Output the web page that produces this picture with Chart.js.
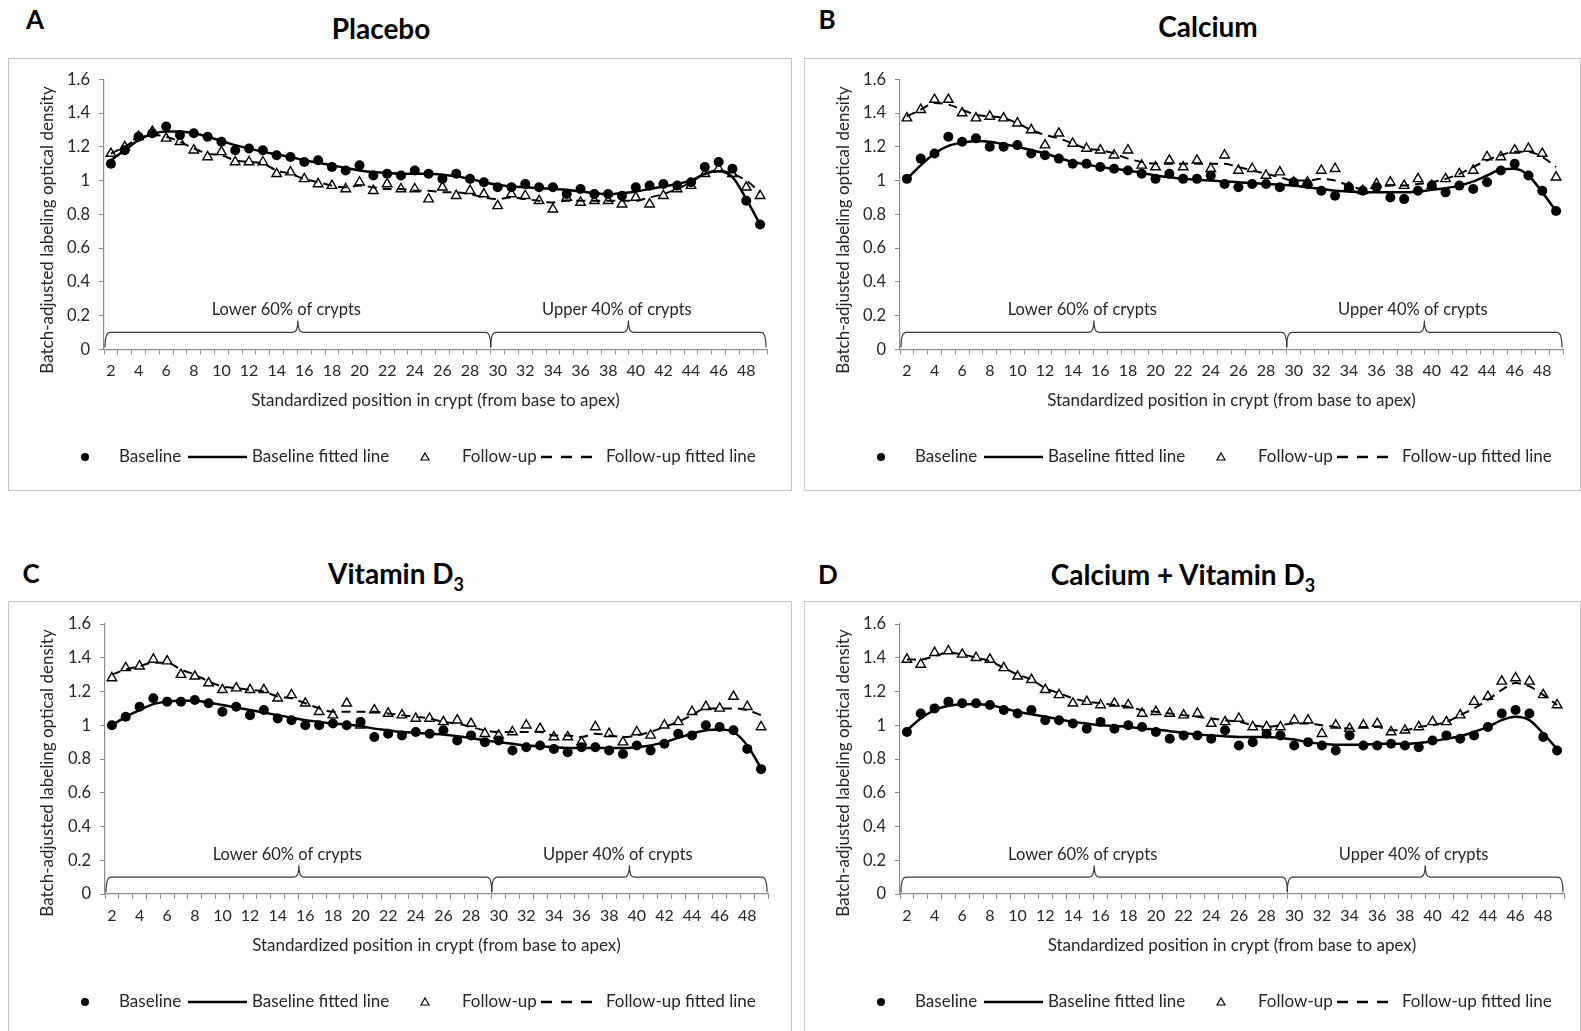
<!DOCTYPE html>
<html lang="en">
<head>
<meta charset="UTF-8" />
<title>Batch-adjusted labeling optical density along the crypt</title>
<script src="https://cdn.jsdelivr.net/npm/chart.js@4.4.1/dist/chart.umd.min.js"></script>
<style>
  body { margin: 0; width: 1581px; height: 1031px; background: #fff; overflow: hidden; position: relative; font-family: Lato, "Open Sans", sans-serif; }
  .box { position: absolute; border: 1.5px solid #c6c6c6; box-sizing: border-box; }
  .panel { position: absolute; }
  .letter, .title { position: absolute; transform: translate(-50%, -50%); font-weight: bold; color: #000; white-space: nowrap; line-height: 1; }
  .letter { font-size: 26px; }
  .title { font-size: 28px; }
  .title sub { font-size: 18px; vertical-align: -7px; line-height: 0; }
</style>
</head>
<body>
  <div class="box" style="left:8px;top:58px;width:784px;height:433px"></div>
  <div class="box" style="left:804px;top:58px;width:777px;height:433px"></div>
  <div class="box" style="left:8px;top:601px;width:784px;height:440px"></div>
  <div class="box" style="left:804px;top:601px;width:777px;height:440px"></div>

  <div class="letter" style="left:35px;top:19px">A</div>
  <div class="title" style="left:381px;top:28px">Placebo</div>
  <div class="letter" style="left:827px;top:19px">B</div>
  <div class="title" style="left:1208px;top:26px">Calcium</div>
  <div class="letter" style="left:31px;top:573px">C</div>
  <div class="title" style="left:396px;top:573px">Vitamin D<sub>3</sub></div>
  <div class="letter" style="left:828px;top:574px">D</div>
  <div class="title" style="left:1183px;top:574px">Calcium + Vitamin D<sub>3</sub></div>

  <canvas id="chartA" class="panel" style="left:8px;top:58px" width="784" height="433"></canvas>
  <canvas id="chartB" class="panel" style="left:804px;top:58px" width="777" height="433"></canvas>
  <canvas id="chartC" class="panel" style="left:8px;top:601px" width="784" height="433"></canvas>
  <canvas id="chartD" class="panel" style="left:804px;top:601px" width="777" height="433"></canvas>

<script>
// standardized position in crypt (base -> apex)
const positions = [2, 3, 4, 5, 6, 7, 8, 9, 10, 11, 12, 13,
  14, 15, 16, 17, 18, 19, 20, 21, 22, 23, 24, 25,
  26, 27, 28, 29, 30, 31, 32, 33, 34, 35, 36, 37,
  38, 39, 40, 41, 42, 43, 44, 45, 46, 47, 48, 49];

// A - Placebo
const placeboBaseline = [1.10, 1.18, 1.26, 1.28, 1.32, 1.27, 1.28, 1.26, 1.23, 1.18, 1.19, 1.18,
  1.15, 1.14, 1.11, 1.12, 1.08, 1.06, 1.09, 1.03, 1.04, 1.03, 1.06, 1.04,
  1.01, 1.04, 1.01, 0.99, 0.96, 0.96, 0.98, 0.96, 0.96, 0.92, 0.95, 0.92,
  0.92, 0.91, 0.96, 0.97, 0.98, 0.97, 0.99, 1.08, 1.11, 1.07, 0.88, 0.74];
const placeboBaselineFit = [1.12, 1.18, 1.24, 1.275, 1.29, 1.29, 1.28, 1.26, 1.235, 1.21, 1.19, 1.17,
  1.155, 1.14, 1.12, 1.105, 1.09, 1.075, 1.06, 1.05, 1.045, 1.04, 1.04, 1.04,
  1.035, 1.025, 1.01, 0.99, 0.975, 0.965, 0.96, 0.955, 0.95, 0.945, 0.935, 0.925,
  0.92, 0.925, 0.935, 0.95, 0.965, 0.98, 1.00, 1.04, 1.055, 1.02, 0.89, 0.74];
const placeboFollowUp = [1.16, 1.20, 1.26, 1.29, 1.25, 1.23, 1.18, 1.14, 1.17, 1.11, 1.11, 1.11,
  1.04, 1.05, 1.01, 0.98, 0.97, 0.95, 0.99, 0.94, 0.98, 0.95, 0.95, 0.89,
  0.96, 0.91, 0.94, 0.92, 0.85, 0.92, 0.91, 0.88, 0.83, 0.90, 0.87, 0.88,
  0.88, 0.86, 0.90, 0.86, 0.91, 0.95, 0.97, 1.04, 1.07, 1.04, 0.96, 0.91];
const placeboFollowUpFit = [1.16, 1.20, 1.25, 1.27, 1.26, 1.23, 1.19, 1.16, 1.15, 1.12, 1.11, 1.10,
  1.06, 1.04, 1.01, 0.99, 0.97, 0.96, 0.97, 0.96, 0.95, 0.95, 0.94, 0.94,
  0.93, 0.93, 0.92, 0.90, 0.89, 0.90, 0.89, 0.88, 0.87, 0.88, 0.88, 0.88,
  0.88, 0.88, 0.88, 0.90, 0.92, 0.95, 0.99, 1.04, 1.06, 1.04, 1.00, 0.93];

// B - Calcium
const calciumBaseline = [1.01, 1.13, 1.16, 1.26, 1.23, 1.25, 1.20, 1.20, 1.21, 1.16, 1.15, 1.13,
  1.10, 1.10, 1.08, 1.07, 1.06, 1.04, 1.01, 1.04, 1.01, 1.01, 1.03, 0.98,
  0.96, 0.98, 0.98, 0.96, 0.99, 0.98, 0.94, 0.91, 0.96, 0.94, 0.96, 0.90,
  0.89, 0.94, 0.97, 0.93, 0.97, 0.95, 0.99, 1.06, 1.10, 1.03, 0.94, 0.82];
const calciumBaselineFit = [1.01, 1.09, 1.16, 1.205, 1.225, 1.235, 1.23, 1.215, 1.20, 1.18, 1.16, 1.135,
  1.11, 1.095, 1.08, 1.07, 1.06, 1.045, 1.03, 1.02, 1.01, 1.005, 1.00, 0.995,
  0.99, 0.985, 0.98, 0.975, 0.97, 0.96, 0.95, 0.94, 0.935, 0.93, 0.93, 0.93,
  0.93, 0.935, 0.945, 0.955, 0.97, 0.995, 1.03, 1.065, 1.07, 1.03, 0.93, 0.82];
const calciumFollowUp = [1.37, 1.42, 1.48, 1.48, 1.40, 1.37, 1.38, 1.37, 1.34, 1.30, 1.21, 1.28,
  1.22, 1.19, 1.18, 1.15, 1.18, 1.09, 1.08, 1.12, 1.08, 1.12, 1.07, 1.15,
  1.06, 1.07, 1.03, 1.05, 0.99, 0.99, 1.06, 1.07, 0.96, 0.94, 0.98, 0.99,
  0.97, 1.01, 0.97, 1.01, 1.04, 1.06, 1.14, 1.14, 1.18, 1.19, 1.16, 1.02];
const calciumFollowUpFit = [1.38, 1.42, 1.46, 1.45, 1.42, 1.39, 1.38, 1.37, 1.34, 1.30, 1.27, 1.25,
  1.22, 1.19, 1.18, 1.16, 1.13, 1.11, 1.10, 1.10, 1.10, 1.10, 1.10, 1.10,
  1.08, 1.06, 1.04, 1.02, 1.00, 1.00, 1.01, 1.00, 0.97, 0.95, 0.96, 0.97,
  0.97, 0.98, 0.99, 1.01, 1.04, 1.08, 1.12, 1.15, 1.17, 1.17, 1.14, 1.08];

// C - Vitamin D3
const vitDBaseline = [1.00, 1.05, 1.11, 1.16, 1.14, 1.14, 1.15, 1.13, 1.08, 1.11, 1.06, 1.09,
  1.04, 1.03, 1.00, 1.00, 1.01, 1.00, 1.02, 0.93, 0.95, 0.94, 0.96, 0.95,
  0.97, 0.91, 0.94, 0.90, 0.91, 0.85, 0.87, 0.88, 0.86, 0.84, 0.87, 0.87,
  0.85, 0.83, 0.88, 0.85, 0.89, 0.95, 0.94, 1.00, 0.99, 0.97, 0.86, 0.74];
const vitDBaselineFit = [1.00, 1.05, 1.09, 1.125, 1.14, 1.145, 1.145, 1.135, 1.12, 1.105, 1.09, 1.075,
  1.06, 1.045, 1.03, 1.02, 1.01, 1.005, 0.995, 0.98, 0.97, 0.96, 0.955, 0.95,
  0.945, 0.935, 0.925, 0.91, 0.90, 0.89, 0.88, 0.875, 0.87, 0.865, 0.865, 0.865,
  0.865, 0.865, 0.87, 0.88, 0.90, 0.925, 0.95, 0.97, 0.975, 0.96, 0.88, 0.745];
const vitDFollowUp = [1.28, 1.34, 1.35, 1.39, 1.38, 1.30, 1.29, 1.25, 1.21, 1.22, 1.21, 1.21,
  1.16, 1.18, 1.13, 1.08, 1.06, 1.13, 1.00, 1.09, 1.07, 1.06, 1.04, 1.04,
  1.02, 1.03, 1.01, 0.95, 0.94, 0.96, 1.00, 0.98, 0.93, 0.93, 0.90, 0.99,
  0.95, 0.90, 0.96, 0.94, 1.00, 1.02, 1.08, 1.11, 1.10, 1.17, 1.11, 0.99];
const vitDFollowUpFit = [1.30, 1.33, 1.35, 1.37, 1.37, 1.33, 1.30, 1.26, 1.23, 1.22, 1.21, 1.20,
  1.17, 1.16, 1.13, 1.10, 1.08, 1.08, 1.08, 1.08, 1.07, 1.06, 1.05, 1.04,
  1.02, 1.01, 0.99, 0.97, 0.96, 0.96, 0.96, 0.96, 0.94, 0.94, 0.93, 0.95,
  0.94, 0.93, 0.94, 0.96, 0.99, 1.02, 1.06, 1.10, 1.10, 1.10, 1.09, 1.06];

// D - Calcium + Vitamin D3
const bothBaseline = [0.96, 1.07, 1.10, 1.14, 1.13, 1.13, 1.12, 1.09, 1.07, 1.09, 1.03, 1.03,
  1.01, 0.98, 1.02, 0.98, 1.00, 0.99, 0.96, 0.92, 0.94, 0.94, 0.92, 0.97,
  0.88, 0.90, 0.95, 0.94, 0.88, 0.90, 0.88, 0.85, 0.94, 0.88, 0.88, 0.89,
  0.88, 0.87, 0.91, 0.94, 0.92, 0.94, 0.99, 1.07, 1.09, 1.07, 0.93, 0.85];
const bothBaselineFit = [0.97, 1.04, 1.09, 1.115, 1.125, 1.125, 1.12, 1.10, 1.08, 1.065, 1.05, 1.035,
  1.02, 1.01, 1.00, 0.995, 0.99, 0.98, 0.975, 0.965, 0.955, 0.945, 0.94, 0.935,
  0.93, 0.93, 0.93, 0.925, 0.915, 0.90, 0.89, 0.885, 0.885, 0.885, 0.89, 0.89,
  0.89, 0.895, 0.905, 0.92, 0.935, 0.96, 0.99, 1.03, 1.05, 1.03, 0.95, 0.86];
const bothFollowUp = [1.39, 1.36, 1.43, 1.44, 1.42, 1.40, 1.39, 1.34, 1.29, 1.27, 1.21, 1.18,
  1.13, 1.14, 1.12, 1.13, 1.12, 1.07, 1.08, 1.07, 1.06, 1.07, 1.01, 1.02,
  1.04, 0.99, 0.99, 0.99, 1.03, 1.03, 0.95, 1.00, 0.98, 1.00, 1.01, 0.96,
  0.97, 0.99, 1.02, 1.02, 1.06, 1.14, 1.17, 1.26, 1.28, 1.26, 1.18, 1.12];
const bothFollowUpFit = [1.39, 1.39, 1.41, 1.43, 1.42, 1.40, 1.38, 1.34, 1.30, 1.27, 1.22, 1.19,
  1.16, 1.14, 1.13, 1.12, 1.11, 1.09, 1.08, 1.07, 1.06, 1.05, 1.04, 1.03,
  1.02, 1.00, 0.99, 1.00, 1.01, 1.01, 1.00, 0.99, 0.98, 0.99, 0.99, 0.97,
  0.97, 0.99, 1.00, 1.02, 1.06, 1.10, 1.15, 1.21, 1.25, 1.23, 1.18, 1.12];

const yTicks = [0, 0.2, 0.4, 0.6, 0.8, 1, 1.2, 1.4, 1.6];
const lowerLabel = "Lower 60% of crypts";
const upperLabel = "Upper 40% of crypts";
const lastLowerPosition = 29;

const FONT = "Lato, 'Open Sans', sans-serif";
const TEXT = "#262626";
const AXIS = "#8c8c8c";

// chart area inside each canvas, in canvas pixels
const panels = [
  { id: "chartA", base: placeboBaseline, baseFit: placeboBaselineFit, follow: placeboFollowUp, followFit: placeboFollowUpFit,
    area: { left: 96, right: 759, top: 21.3, bottom: 291.3 }, xTitleY: 343, legendY: 399 },
  { id: "chartB", base: calciumBaseline, baseFit: calciumBaselineFit, follow: calciumFollowUp, followFit: calciumFollowUpFit,
    area: { left: 96, right: 759, top: 21.3, bottom: 291.3 }, xTitleY: 343, legendY: 399 },
  { id: "chartC", base: vitDBaseline, baseFit: vitDBaselineFit, follow: vitDFollowUp, followFit: vitDFollowUpFit,
    area: { left: 97, right: 760, top: 23, bottom: 293 }, xTitleY: 345, legendY: 401 },
  { id: "chartD", base: bothBaseline, baseFit: bothBaselineFit, follow: bothFollowUp, followFit: bothFollowUpFit,
    area: { left: 96, right: 760, top: 23, bottom: 293 }, xTitleY: 345, legendY: 401 }
];

function drawBrace(ctx, x1, x2, yLine, drop, tip) {
  const mid = (x1 + x2) / 2, r = 5;
  ctx.beginPath();
  ctx.moveTo(x1, yLine + drop);
  ctx.quadraticCurveTo(x1, yLine, x1 + r, yLine);
  ctx.lineTo(mid - r, yLine);
  ctx.quadraticCurveTo(mid, yLine, mid, yLine - tip);
  ctx.quadraticCurveTo(mid, yLine, mid + r, yLine);
  ctx.lineTo(x2 - r, yLine);
  ctx.quadraticCurveTo(x2, yLine, x2, yLine + drop);
  ctx.stroke();
}

const cryptExtras = {
  id: "cryptExtras",
  afterDraw(chart, args, opts) {
    const { ctx, chartArea, scales: { x, y } } = chart;
    const i = positions.indexOf(lastLowerPosition);
    const split = (x.getPixelForValue(i) + x.getPixelForValue(i + 1)) / 2;
    const yLine = y.getPixelForValue(0.1);
    const drop = y.getPixelForValue(0.01) - yLine;
    ctx.save();
    ctx.strokeStyle = "#3a3a3a";
    ctx.lineWidth = 1.2;
    drawBrace(ctx, chartArea.left + 1, split, yLine, drop, 12);
    drawBrace(ctx, split, chartArea.right - 1, yLine, drop, 12);

    ctx.fillStyle = TEXT;
    ctx.font = "16.5px " + FONT;
    ctx.textAlign = "center";
    ctx.textBaseline = "middle";
    const ly = y.getPixelForValue(0.235);
    ctx.fillText(lowerLabel, (chartArea.left + split) / 2 - 11, ly);
    ctx.fillText(upperLabel, (split + chartArea.right) / 2 - 12, ly);

    // y axis title
    ctx.save();
    ctx.translate(40, 172);
    ctx.rotate(-Math.PI / 2);
    ctx.font = "17px " + FONT;
    ctx.fillText("Batch-adjusted labeling optical density", 0, 0);
    ctx.restore();

    // legend
    const gy = opts.legendY;
    ctx.textAlign = "left";
    ctx.font = "17px " + FONT;
    ctx.fillStyle = "#000";
    ctx.beginPath();
    ctx.arc(77, gy, 4, 0, Math.PI * 2);
    ctx.fill();
    ctx.fillStyle = TEXT;
    ctx.fillText("Baseline", 111, gy);
    ctx.strokeStyle = "#000";
    ctx.lineWidth = 2.5;
    ctx.beginPath();
    ctx.moveTo(180, gy); ctx.lineTo(239, gy);
    ctx.stroke();
    ctx.fillText("Baseline fitted line", 244, gy);
    ctx.lineWidth = 1.2;
    ctx.beginPath();
    ctx.moveTo(417, gy - 4); ctx.lineTo(421, gy + 3); ctx.lineTo(413, gy + 3); ctx.closePath();
    ctx.stroke();
    ctx.fillText("Follow-up", 454, gy);
    ctx.lineWidth = 2.5;
    ctx.setLineDash([11, 9]);
    ctx.beginPath();
    ctx.moveTo(533, gy); ctx.lineTo(592, gy);
    ctx.stroke();
    ctx.setLineDash([]);
    ctx.fillText("Follow-up fitted line", 598, gy);
    ctx.restore();
  }
};

function makeChart(p) {
  const canvas = document.getElementById(p.id);
  const W = canvas.width, H = canvas.height;
  return new Chart(canvas, {
    type: "line",
    data: {
      labels: positions,
      datasets: [
        { label: "Baseline", data: p.base, showLine: false, pointStyle: "circle", pointRadius: 5,
          pointBackgroundColor: "#000", pointBorderColor: "#000", pointBorderWidth: 0, order: 2 },
        { label: "Baseline fitted line", data: p.baseFit, borderColor: "#000", borderWidth: 2.5,
          pointRadius: 0, cubicInterpolationMode: "monotone", order: 1 },
        { label: "Follow-up", data: p.follow, showLine: false, pointStyle: "triangle", pointRadius: 5.5,
          pointBackgroundColor: "#fff", pointBorderColor: "#000", pointBorderWidth: 1.4, order: 3 },
        { label: "Follow-up fitted line", data: p.followFit, borderColor: "#000", borderWidth: 2,
          borderDash: [9, 6], pointRadius: 0, cubicInterpolationMode: "monotone", order: 0 }
      ]
    },
    options: {
      responsive: false,
      animation: false,
      events: [],
      layout: { padding: { left: 0, top: p.area.top, right: W - p.area.right, bottom: 0 } },
      plugins: {
        legend: { display: false },
        tooltip: { enabled: false },
        cryptExtras: { legendY: p.legendY }
      },
      scales: {
        x: {
          offset: true,
          grid: { offset: true, drawOnChartArea: false, tickLength: 5, color: AXIS },
          border: { color: AXIS, width: 1.2 },
          ticks: {
            autoSkip: false, maxRotation: 0, minRotation: 0, padding: 7, color: TEXT,
            font: { family: FONT, size: 16 },
            callback: (v, i) => (positions[i] % 2 === 0 ? String(positions[i]) : "")
          },
          title: {
            display: true, text: "Standardized position in crypt (from base to apex)", color: TEXT,
            font: { family: FONT, size: 17 }, padding: { top: 0, bottom: H - p.xTitleY - 10.2 }
          },
          afterFit: (s) => { s.height = H - p.area.bottom; }
        },
        y: {
          min: yTicks[0],
          max: yTicks[yTicks.length - 1],
          afterBuildTicks: (s) => { s.ticks = yTicks.map((v) => ({ value: v })); },
          ticks: {
            padding: 9, color: TEXT, font: { family: FONT, size: 16.5 },
            callback: (v) => String(Math.round(v * 10) / 10)
          },
          grid: { drawOnChartArea: false, tickLength: 5, color: AXIS },
          border: { color: AXIS, width: 1.2 },
          afterFit: (s) => { s.width = p.area.left; }
        }
      }
    },
    plugins: [cryptExtras]
  });
}

panels.forEach(makeChart);
</script>
</body>
</html>
